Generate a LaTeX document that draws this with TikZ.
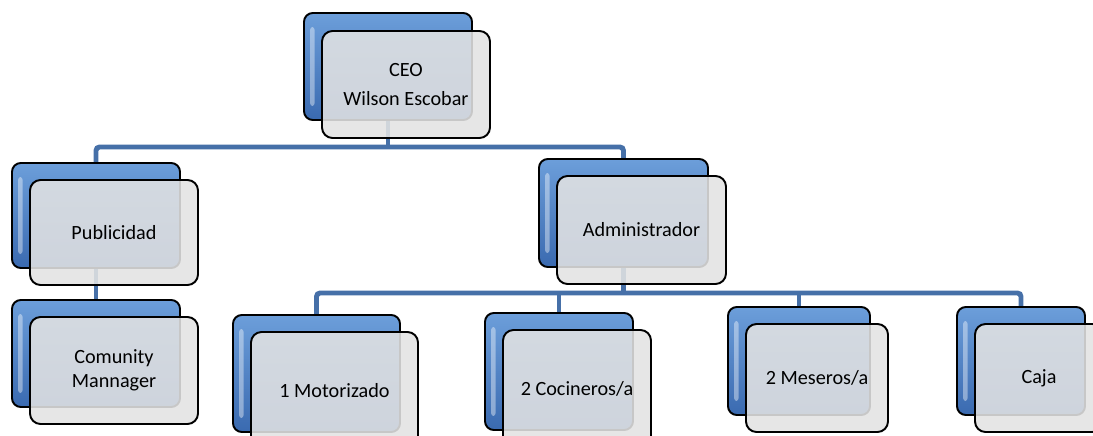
\documentclass[tikz,border=0pt]{standalone}
\usepackage{fontspec}
\setmainfont{Carlito}
\usetikzlibrary{positioning}
\pgfdeclarelayer{background}
\pgfsetlayers{background,main}
\definecolor{orgblue}{RGB}{70,112,168}
\definecolor{cardtop}{RGB}{108,158,218}
\definecolor{cardbot}{RGB}{58,106,176}
\definecolor{cardgray}{RGB}{227,227,227}
\tikzset{%
  backbox/.style 2 args={
    draw=black, line width=1.1pt, rounded corners=5pt,
    top color=cardtop, bottom color=cardbot,
    minimum width=#1*0.02cm, minimum height=#2*0.02cm, inner sep=0pt,
    path picture={
      \fill [white, opacity=.4, rounded corners=1.5pt]
        ([xshift=3.5pt,yshift=-8pt]path picture bounding box.north west)
        rectangle ([xshift=6pt,yshift=8pt]path picture bounding box.south west);
    }},
  frontbox/.style 2 args={
    draw=black, line width=1.1pt, rounded corners=6pt,
    fill=cardgray, fill opacity=.88, text opacity=1,
    minimum width=#1*0.02cm, minimum height=#2*0.02cm, inner sep=0pt,
    align=center, font=\fontsize{11.5}{13.5}\selectfont},
  orgline/.style={draw=orgblue, line width=2.8pt, rounded corners=2pt}
}

\begin{document}
\begin{tikzpicture}[x=0.02cm, y=-0.02cm]
		\useasboundingbox (0,0) rectangle (1093,436);
		\clip (0,0) rectangle (1093,436);
		\coordinate (topbus) at (0,147);
		\coordinate (lowbus) at (0,293);
		% top
		\node [backbox={168}{107}] (ceob) at (388,66.5) {};
		\node [frontbox={168}{107}] (ceo) at (406,84.5) {CEO\\[3.5pt]Wilson Escobar};
		% second row
		\node [backbox={168}{105}] (pubb) at (96,215.5) {};
		\node [frontbox={168}{105}] (pub) at (114,232.5) {Publicidad};
		\node [backbox={169}{108}] (admb) at (623.5,213) {};
		\node [frontbox={169}{108}] (adm) at (641.5,230) {Administrador};
		\node [backbox={168}{107}] (comb) at (96,353.5) {};
		\node [frontbox={168}{107}] (com) at (114,370.5) {Comunity\\Mannager};
		% third row
		\node [backbox={167}{117}] (motb) at (316.5,373.5) {};
		\node [frontbox={167}{117}] (mot) at (334.5,390.5) {1 Motorizado};
		\node [backbox={148}{117}] (cocb) at (559,371.5) {};
		\node [frontbox={148}{117}] (coc) at (577,388.5) {2 Cocineros/a};
		\node [backbox={142}{108}] (mesb) at (799,361) {};
		\node [frontbox={142}{108}] (mes) at (817,378) {2 Meseros/a};
		\node [backbox={128}{108}] (cajb) at (1021,361) {};
		\node [frontbox={128}{108}] (caj) at (1039,378) {Caja};
		% connectors
		\begin{pgfonlayer}{background}
			\fill [white] (0,0) rectangle (1093,436);
			\draw [orgline] (pubb.north) |- (topbus -| admb.north) -- (admb.north);
			\draw [orgline] (ceob.south) -- (ceob.south |- topbus);
			\draw [orgline] (pubb.south) -- (comb.north);
			\draw [orgline] (motb.north) |- (lowbus -| cajb.north) -- (cajb.north);
			\draw [orgline] (admb.south) -- (admb.south |- lowbus);
			\draw [orgline] (cocb.north) -- (cocb.north |- lowbus);
			\draw [orgline] (mesb.north) -- (mesb.north |- lowbus);
		\end{pgfonlayer}
	\end{tikzpicture}
\end{document}
